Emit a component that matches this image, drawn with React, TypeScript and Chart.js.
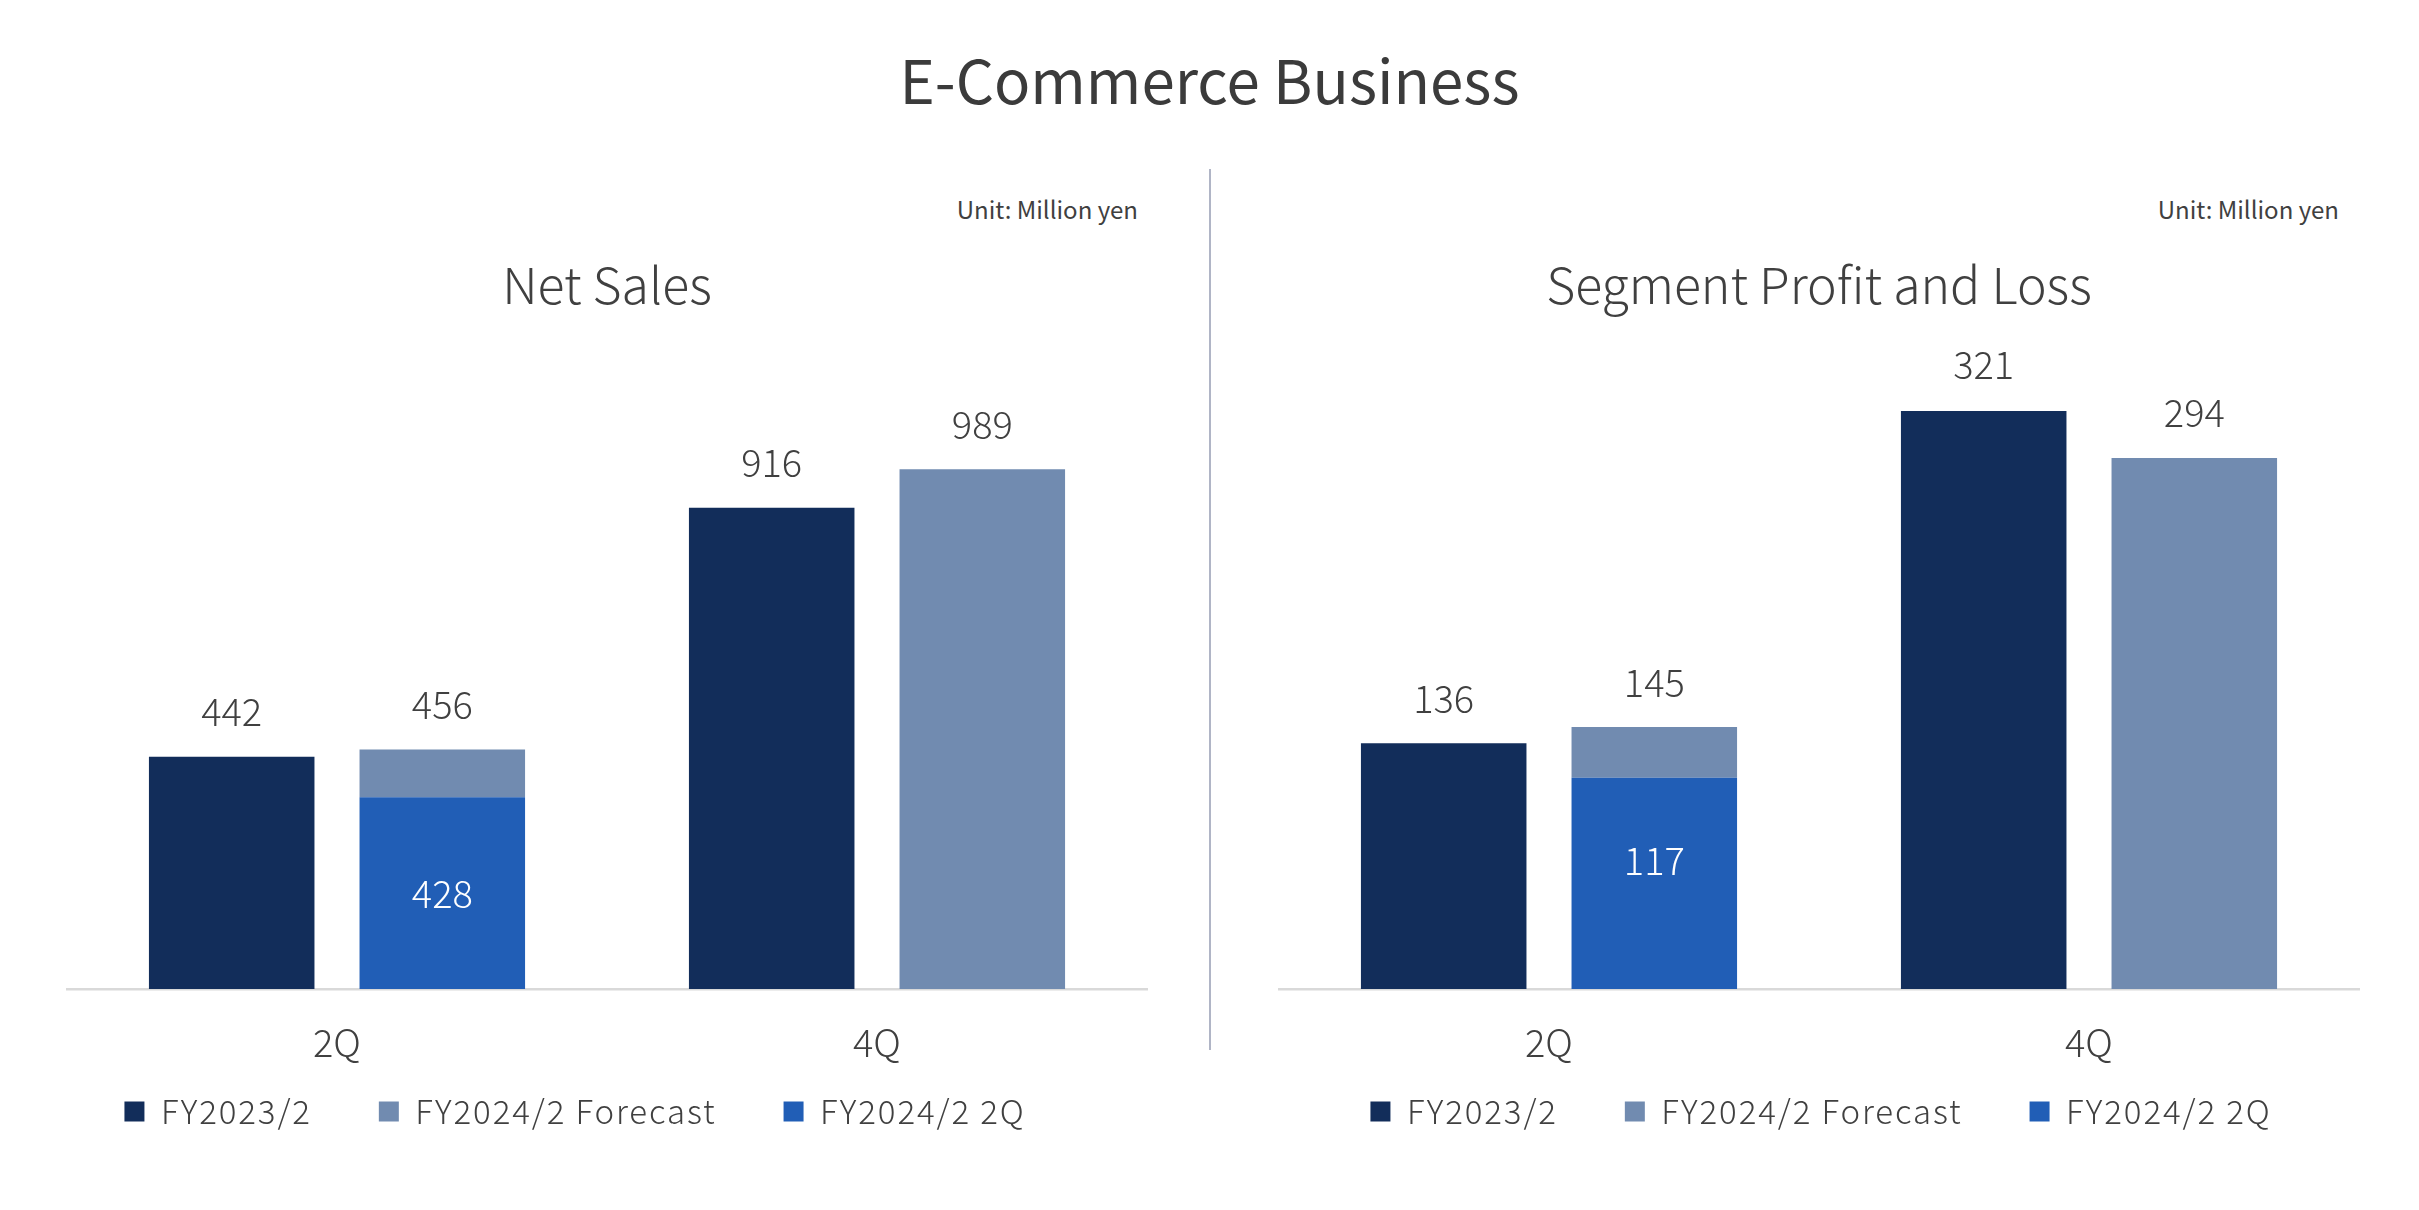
import React, { useEffect, useRef } from "react";
import { Chart, registerables } from "chart.js";

Chart.register(...registerables);

// ---------- data ----------
const categories = ["2Q", "4Q"];
const seriesNames = ["FY2023/2", "FY2024/2 Forecast", "FY2024/2 2Q"];

const netSalesFY2023 = [442, 916];
const netSalesForecast = [456, 989];
// bar height of the FY2024/2 2Q segment as drawn in the reference; its printed label is 428
const netSales2Q = [365, null];
const netSales2QLabels = ["428", ""];

const profitFY2023 = [136, 321];
const profitForecast = [145, 294];
const profit2Q = [117, null];
const profit2QLabels = ["117", ""];

const COLOR_PREV = "#122d5a";
const COLOR_FORECAST = "#718bb0";
const COLOR_2Q = "#215eb6";
const TEXT = "#404040";
const FONT = "'Noto Sans CJK JP', 'Noto Sans', sans-serif";

const LEGEND_PAD = 67;
const LEGEND_SHIFT = 43;
const LEGEND_LS = "1.9px";

const valueLabelPlugin = {
  id: "valueLabels",
  afterDatasetsDraw(chart: any) {
    const ctx = chart.ctx;
    const shift = chart.options.plugins.valueLabels?.insideShift ?? 0;
    ctx.save();
    ctx.font = `300 38px ${FONT}`;
    ctx.textAlign = "center";
    ctx.textBaseline = "middle";
    chart.data.datasets.forEach((ds: any, di: number) => {
      const meta = chart.getDatasetMeta(di);
      meta.data.forEach((bar: any, i: number) => {
        const txt = ds.labelTexts ? ds.labelTexts[i] : "";
        if (!txt || ds.data[i] == null) return;
        if (ds.labelInside) {
          ctx.fillStyle = "#ffffff";
          ctx.fillText(txt, bar.x, (bar.y + bar.base) / 2 + shift);
        } else {
          ctx.fillStyle = TEXT;
          ctx.fillText(txt, bar.x, bar.y - 45);
        }
      });
    });
    ctx.restore();
  },
};

// lets the legend keep wide item gaps while its row sits close under the x-axis labels
const legendPatchPlugin = {
  id: "legendPatch",
  afterInit(chart: any) {
    const lg = chart.legend;
    if (!lg || lg.__patched) return;
    lg.__patched = true;
    const origFit = lg.fit.bind(lg);
    const origDraw = lg.draw.bind(lg);
    lg.fit = function () {
      const ctx = chart.ctx;
      const prev = ctx.letterSpacing;
      ctx.letterSpacing = LEGEND_LS;
      origFit();
      ctx.letterSpacing = prev;
      this.height = Math.max(0, this.height - LEGEND_SHIFT);
    };
    lg.draw = function (area: any) {
      const ctx = chart.ctx;
      const prev = ctx.letterSpacing;
      ctx.letterSpacing = LEGEND_LS;
      this.top -= LEGEND_SHIFT;
      this.height += LEGEND_SHIFT;
      origDraw(area);
      this.top += LEGEND_SHIFT;
      this.height -= LEGEND_SHIFT;
      ctx.letterSpacing = prev;
    };
  },
};

type PanelProps = {
  prev: number[];
  forecast: number[];
  q2: (number | null)[];
  q2Labels: string[];
  yMax: number;
  canvasLeft: number;
  chartLeft: number;
  chartRight: number;
  insideShift: number;
};

const CANVAS_TOP = 320;
const CANVAS_H = 890;
const CANVAS_W = 1150;

function BarPanel(p: PanelProps) {
  const ref = useRef<HTMLCanvasElement>(null);
  useEffect(() => {
    if (!ref.current) return;
    const wL = p.chartLeft - p.canvasLeft;
    const wR = p.canvasLeft + CANVAS_W - p.chartRight;
    const remainder = p.forecast.map((v, i) => v - (p.q2[i] ?? 0));
    const legendRank = [0, 2, 1];
    const chart = new Chart(ref.current, {
      type: "bar",
      data: {
        labels: categories,
        datasets: [
          {
            label: seriesNames[0],
            data: p.prev,
            backgroundColor: COLOR_PREV,
            borderWidth: 0,
            stack: "prev",
            labelTexts: p.prev.map((v) => String(v)),
          } as any,
          {
            label: seriesNames[2],
            data: p.q2,
            backgroundColor: COLOR_2Q,
            borderWidth: 0,
            stack: "curr",
            labelTexts: p.q2Labels,
            labelInside: true,
          } as any,
          {
            label: seriesNames[1],
            data: remainder,
            backgroundColor: COLOR_FORECAST,
            borderWidth: 0,
            stack: "curr",
            labelTexts: p.forecast.map((v) => String(v)),
          } as any,
        ],
      },
      options: {
        responsive: false,
        animation: false,
        devicePixelRatio: 1,
        categoryPercentage: 0.78,
        barPercentage: 0.786,
        layout: { padding: { top: 91, bottom: 72, left: 0, right: 0 } },
        plugins: {
          tooltip: { enabled: false },
          title: { display: false },
          valueLabels: { insideShift: p.insideShift },
          legend: {
            display: true,
            position: "bottom",
            align: "center",
            labels: {
              boxWidth: 20,
              boxHeight: 20,
              padding: LEGEND_PAD,
              color: TEXT,
              font: { family: FONT, size: 33, weight: "300" as any },
              sort: (a: any, b: any) => legendRank[a.datasetIndex] - legendRank[b.datasetIndex],
            },
          },
        },
        scales: {
          x: {
            grid: { display: false, drawTicks: false },
            border: { display: true, color: "#d9d9d9", width: 2.5 },
            ticks: {
              color: TEXT,
              padding: 31,
              font: { family: FONT, size: 38, weight: "300" as any },
            },
            afterFit: (s: any) => {
              s.height = 82;
            },
          },
          y: {
            display: true,
            stacked: true,
            min: 0,
            max: p.yMax,
            grid: { display: false },
            border: { display: false },
            ticks: { display: false },
            afterFit: (s: any) => {
              s.width = wL;
            },
          },
          y2: {
            display: true,
            position: "right",
            grid: { display: false },
            border: { display: false },
            ticks: { display: false },
            afterFit: (s: any) => {
              s.width = wR;
            },
          },
        },
      } as any,
      plugins: [valueLabelPlugin, legendPatchPlugin],
    });
    return () => chart.destroy();
  }, []);
  return (
    <canvas
      ref={ref}
      width={CANVAS_W}
      height={CANVAS_H}
      style={{ position: "absolute", left: p.canvasLeft, top: CANVAS_TOP, width: CANVAS_W, height: CANVAS_H }}
    />
  );
}

const textBase: React.CSSProperties = {
  position: "absolute",
  fontFamily: FONT,
  color: TEXT,
  lineHeight: 1,
  whiteSpace: "nowrap",
};

export default function App() {
  return (
    <div
      style={{
        position: "fixed",
        left: 0,
        top: 0,
        width: 2419,
        height: 1210,
        background: "#ffffff",
        overflow: "hidden",
      }}
    >
      <div style={{ ...textBase, left: 0, width: 2419, textAlign: "center", top: 48, fontSize: 60, fontWeight: 400, color: "#3b3b3b" }}>
        E-Commerce Business
      </div>
      <div style={{ position: "absolute", left: 1209, top: 169, width: 2, height: 881, background: "#b0b5c6" }} />

      <div style={{ ...textBase, right: 2419 - 1138, top: 197, fontSize: 24, fontWeight: 400 }}>Unit: Million yen</div>
      <div style={{ ...textBase, right: 2419 - 2339, top: 197, fontSize: 24, fontWeight: 400 }}>Unit: Million yen</div>

      <div style={{ ...textBase, left: 67, width: 1080, textAlign: "center", top: 257, fontSize: 50, fontWeight: 300 }}>Net Sales</div>
      <div style={{ ...textBase, left: 1279, width: 1080, textAlign: "center", top: 257, fontSize: 50, fontWeight: 300 }}>
        Segment Profit and Loss
      </div>

      <BarPanel
        prev={netSalesFY2023}
        forecast={netSalesForecast}
        q2={netSales2Q}
        q2Labels={netSales2QLabels}
        yMax={1100}
        canvasLeft={0}
        chartLeft={67}
        chartRight={1147}
        insideShift={0}
      />
      <BarPanel
        prev={profitFY2023}
        forecast={profitForecast}
        q2={profit2Q}
        q2Labels={profit2QLabels}
        yMax={320}
        canvasLeft={1246}
        chartLeft={1279}
        chartRight={2359}
        insideShift={-23}
      />
    </div>
  );
}
